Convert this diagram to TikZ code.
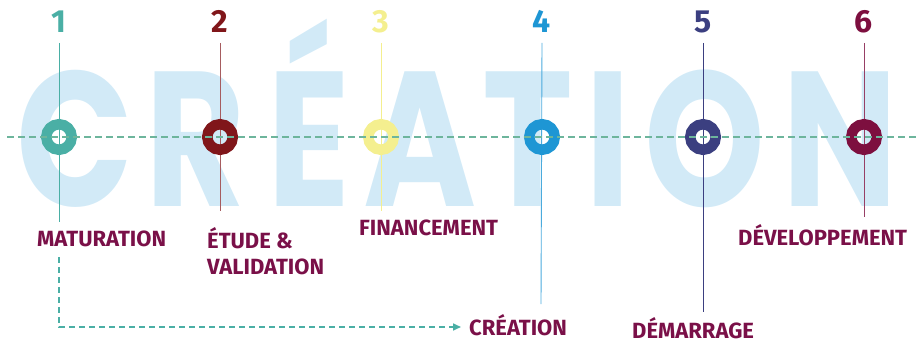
\documentclass[tikz,border=0pt]{standalone}
\usepackage{fontspec}
\setmainfont{Fira Sans}
\newfontfamily\bigfont{Poppins}
\usetikzlibrary{arrows.meta}
\definecolor{cteal}{HTML}{4AAFA5}
\definecolor{cred}{HTML}{80161A}
\definecolor{cyel}{HTML}{F4EF8F}
\definecolor{cblue}{HTML}{1E96D4}
\definecolor{cnavy}{HTML}{3B3F80}
\definecolor{cwine}{HTML}{7D0F3F}
\definecolor{clabel}{HTML}{7A1048}
\definecolor{cdash}{HTML}{6DB59C}
\definecolor{cbg}{HTML}{D2EAF7}
\newcommand{\bgch}[1]{\scalebox{0.8}[1]{#1}}
\tikzset{
  bigletter/.style={text=cbg, font=\bigfont\bfseries\fontsize{192}{192}\selectfont, inner sep=0pt, anchor=base, text depth=0pt},
  stepnum/.style={font=\bfseries\fontsize{32}{32}\selectfont, inner sep=0pt, anchor=base},
  ring/.style={circle, draw=#1, line width=10.5pt, minimum size=25.5pt, inner sep=0pt},
  vline/.style={line width=0.9pt},
  lbl/.style={text=clabel, font=\bfseries\fontsize{22}{22}\selectfont, inner sep=0pt, anchor=base west, align=left},
}
\begin{document}
\begin{tikzpicture}[x=1pt,y=-1pt]
\useasboundingbox (0,0) rectangle (916,342);
% background word
\node[bigletter] (bC) at (75.5,207) {\bgch{C}};
\node[bigletter] (bR) at (196,207) {\bgch{R}};
\node[bigletter] (bE) at (309,207) {\bgch{É}};
\node[bigletter] (bA) at (420,207) {\bgch{A}};
\node[bigletter] (bT) at (528,207) {\bgch{T}};
\node[bigletter] (bI) at (608,207) {\bgch{I}};
\node[bigletter] (bO) at (705,207) {\bgch{O}};
\node[bigletter] (bN) at (840,207) {\bgch{N}};
% numbers
\node[stepnum, text=cteal] (n1) at (59,33) {1};
\node[stepnum, text=cred] (n2) at (220,33) {2};
\node[stepnum, text=cyel] (n3) at (381,33) {3};
\node[stepnum, text=cblue] (n4) at (542,33) {4};
\node[stepnum, text=cnavy] (n5) at (703,33) {5};
\node[stepnum, text=cwine] (n6) at (864,33) {6};
% vertical line ends
\coordinate (t1) at (59,43);  \coordinate (b1) at (59,222);
\coordinate (t2) at (220,43); \coordinate (b2) at (220,211);
\coordinate (t3) at (381,43); \coordinate (b3) at (381,211);
\coordinate (t4) at (542,43); \coordinate (b4) at (541,304);
\coordinate (t5) at (703,43); \coordinate (b5) at (703,312);
\coordinate (t6) at (864,43); \coordinate (b6) at (864,217);
\draw[vline, cteal] (t1) -- (b1);
\draw[vline, cred!70] (t2) -- (b2);
\draw[vline, cyel] (t3) -- (b3);
\draw[vline, cblue!80] (t4) -- (b4);
\draw[vline, cnavy] (t5) -- (b5);
\draw[vline, cwine!80] (t6) -- (b6);
% rings
\node[ring=cteal] (c1) at (59,137) {};
\node[ring=cred] (c2) at (220,137) {};
\node[ring=cyel] (c3) at (381,137) {};
\node[ring=cblue] (c4) at (542,137) {};
\node[ring=cnavy] (c5) at (703,137) {};
\node[ring=cwine] (c6) at (864,137) {};
% dashed axis
\coordinate (hl) at (7,137);
\coordinate (hr) at (916,137);
\draw[cdash, line width=2pt, dash pattern=on 7pt off 4pt] (hl) -- (hr);
% labels
\node[lbl] (l1) at (37,246.5) {MATURATION};
\node[lbl] (l2) at (207,248) {ÉTUDE \&};
\node[lbl] (l2b) at (207,274) {VALIDATION};
\node[lbl] (l3) at (359,235) {FINANCEMENT};
\node[lbl] (l4) at (469,335) {CRÉATION};
\node[lbl] (l5) at (632,338) {DÉMARRAGE};
\node[lbl] (l6) at (738,245) {DÉVELOPPEMENT};
% dashed arrow
\coordinate (as) at (59,257);
\coordinate (ae) at (461,327);
\draw[cteal, line width=1.6pt, dash pattern=on 6pt off 4pt, -{Triangle[length=8pt,width=7pt]}] (as) |- (ae);
\end{tikzpicture}
\end{document}
